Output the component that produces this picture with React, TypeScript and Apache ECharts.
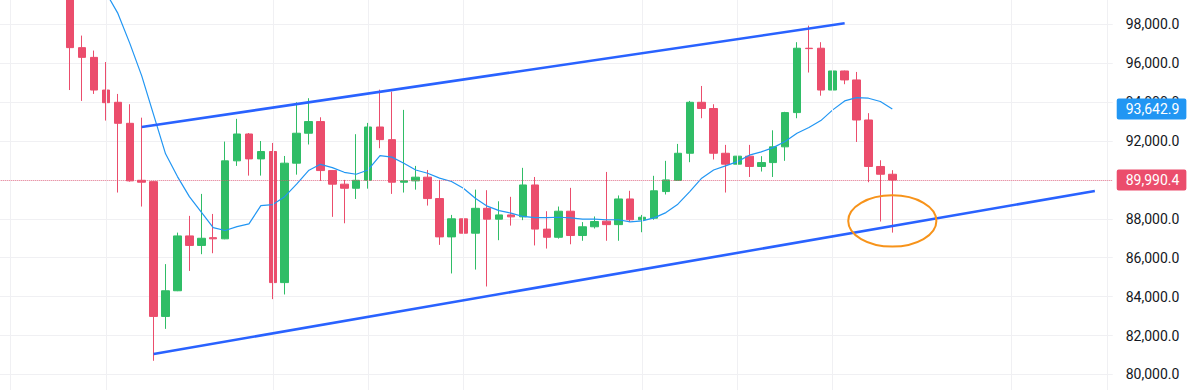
import { useEffect, useRef } from "react";
import * as echarts from "echarts";

// ---- slots / categories ----
const slotCount = 94;
const leadSlots = 6; // empty slots left of the first visible candle
const categories: string[] = Array.from({ length: slotCount }, (_, i) => `S${i}`);

// ---- candle data (70 candles) ----
const opens = [
  99900, 96800, 96300, 94620, 93990, 92910, 89980, 89910, 82980, 84300,
  87120, 86630, 87030, 86970, 90980, 92360, 91080, 91460, 84720, 90860,
  92400, 93000, 90480, 89780, 89570, 89980, 92720, 92070, 89880, 89950,
  90140, 89040, 87070, 88000, 87260, 88540, 87980, 88200, 88100, 89740,
  87470, 87050, 88390, 87140, 87590, 87880, 87700, 89020, 87950, 88030,
  89400, 89970, 91370, 93990, 93670, 91370, 90810, 91220, 90690, 90890,
  91700, 93460, 96770, 96770, 94620, 95600, 95140, 93080, 90690, 90290,
];
const closes = [
  96800, 96300, 94620, 93970, 92910, 89950, 89880, 82980, 84300, 87120,
  86630, 87000, 86970, 90980, 92360, 91080, 91460, 84720, 90860, 92400,
  93000, 90480, 89780, 89570, 89980, 92720, 92070, 89880, 89950, 90140,
  89040, 87070, 88000, 87260, 88540, 87980, 88200, 88100, 89740, 87470,
  87050, 88390, 87140, 87590, 87860, 87700, 89020, 87950, 88080, 89440,
  90000, 91370, 93990, 93670, 91370, 90810, 91220, 90690, 90890, 91700,
  93460, 96770, 96750, 94620, 95600, 95140, 93080, 90690, 90290, 89990.4,
];
const lows = [
  94620, 94060, 94420, 93050, 89350, 89910, 88630, 80700, 82340, 84280,
  85320, 86180, 86230, 86950, 90720, 90220, 90220, 83870, 84110, 90270,
  91820, 89950, 88100, 87770, 89020, 89550, 91630, 89280, 89350, 89500,
  88680, 86660, 85190, 86270, 85390, 84520, 86900, 87650, 87930, 86630,
  86470, 86980, 86690, 86870, 87500, 86870, 86870, 87830, 87310, 87950,
  89250, 89960, 90910, 93170, 91050, 89350, 89780, 90150, 90430, 90150,
  90980, 93170, 95520, 94330, 94590, 94920, 91950, 89880, 87860, 87290,
];
const highs = [
  100400, 97420, 96650, 96060, 94420, 93890, 93200, 89930, 85670, 87290,
  88150, 89280, 88250, 91970, 93140, 92410, 92000, 91900, 91230, 93990,
  94200, 93220, 90500, 90000, 92350, 92930, 94640, 94540, 93600, 90720,
  90510, 90000, 88200, 90410, 89500, 89470, 88900, 89130, 90620, 90150,
  88390, 88630, 89590, 87830, 88120, 90410, 89200, 89440, 88200, 90210,
  90980, 91850, 94060, 94830, 93890, 91800, 92040, 91800, 91220, 92550,
  93500, 97080, 97930, 97080, 95670, 95620, 95550, 93430, 91010, 90500,
];
// moving average (null = not drawn)
const maValues: (number | null)[] = [
  null, null, null, 99630, 98560, 97020, 95350, 93340, 91340, 90170,
  89140, 88340, 87550, 87400, 87600, 87740, 88680, 88730, 89140, 89780,
  90480, 90800, 90630, 90390, 90290, 90510, 91250, 91170, 90860, 90510,
  90340, 90090, 89920, 89570, 89060, 88650, 88420, 88290, 88120, 88060,
  88060, 88080, 88050, 87980, 87980, 87950, 87950, 87840, 87890, 88050,
  88320, 88750, 89400, 90090, 90510, 90720, 90940, 91270, 91440, 91660,
  91970, 92400, 92690, 93050, 93600, 94060, 94230, 94200, 94030, 93642.9,
];

const lastPrice = 89990.4;
const maLast = 93642.9;

// y axis ticks
const yMin = 78000;
const yMax = 100000;
const yStep = 2000;

// vertical grid lines (slot indices)
const verticalGridSlots = [1, 9, 23, 31, 39, 54, 62, 70, 85, 93];

// trend lines: [candleIndex, price]
const upperTrend: [number, number][] = [[6, 92720], [65, 98050]];
const lowerTrend: [number, number][] = [[7, 81050], [86, 89430]];

// highlight ellipse around candle 69
const ellipseCandle = 69;
const ellipseCenterPrice = 87890;
const ellipseHalfPrice = 1320;
const ellipseHalfSlots = 3.7;

const UP = "#2fbd66";
const DOWN = "#eb4d6c";
const FONT = "Roboto, 'Liberation Sans', sans-serif";

const fmt = (v: number) =>
  v.toLocaleString("en-US", { minimumFractionDigits: 1, maximumFractionDigits: 1 });

export default function App() {
  const ref = useRef<HTMLDivElement>(null);

  useEffect(() => {
    if (!ref.current) return;
    const chart = echarts.init(ref.current, null, { renderer: "svg" });

    const candleData = opens.map((o, i) => [leadSlots + i, o, closes[i], lows[i], highs[i]]);
    const maData = maValues
      .map((v, i) => (v == null ? null : [leadSlots + i, v]))
      .filter((d) => d !== null);

    const band = 11.914;
    const option: any = {
      animation: false,
      backgroundColor: "#ffffff",
      grid: {
        left: -7.2,
        top: -14.6,
        width: slotCount * band,
        height: 427.9,
        containLabel: false,
        outerBoundsMode: "none",
      },
      xAxis: {
        type: "category",
        data: categories,
        boundaryGap: true,
        axisLine: { show: false },
        axisTick: { show: false },
        axisLabel: { show: false },
        splitLine: { show: false },
      },
      yAxis: {
        type: "value",
        position: "right",
        min: yMin,
        max: yMax,
        interval: yStep,
        axisLine: { show: false },
        axisTick: { show: false },
        axisLabel: {
          margin: 13,
          color: "#131722",
          fontSize: 14,
          fontFamily: FONT,
          showMinLabel: false,
          showMaxLabel: false,
          formatter: (v: number) => fmt(v),
        },
        splitLine: { lineStyle: { color: "#f0f0f3", width: 1 } },
      },
      series: [
        {
          name: "grid",
          type: "line",
          data: [],
          z: 1,
          silent: true,
          markLine: {
            silent: true,
            symbol: ["none", "none"],
            label: { show: false },
            lineStyle: { color: "#f0f0f3", width: 1, type: "solid" },
            data: verticalGridSlots.map((s) => ({ xAxis: s })),
          },
        },
        {
          name: "candles",
          type: "candlestick",
          z: 2,
          barWidth: 8,
          encode: { x: 0, y: [1, 2, 3, 4] },
          data: candleData,
          itemStyle: {
            color: UP,
            color0: DOWN,
            borderColor: UP,
            borderColor0: DOWN,
            borderWidth: 1,
          },
          markLine: {
            silent: true,
            symbol: ["none", "none"],
            data: [
              {
                yAxis: lastPrice,
                lineStyle: { color: "rgba(235,77,108,0.7)", type: "dotted", width: 1 },
                label: {
                  show: true,
                  position: "end",
                  distance: 4,
                  formatter: () => fmt(lastPrice),
                  color: "#ffffff",
                  backgroundColor: DOWN,
                  padding: [3, 7, 3, 9],
                  borderRadius: 2,
                  fontSize: 14,
                  lineHeight: 15,
                  fontFamily: FONT,
                  opacity: 1,
                },
              },
            ],
          },
        },
        {
          name: "MA",
          type: "line",
          z: 3,
          data: maData,
          showSymbol: false,
          symbol: "none",
          lineStyle: { color: "#2196f3", width: 1.2 },
          markLine: {
            silent: true,
            symbol: ["none", "none"],
            data: [
              {
                yAxis: maLast,
                lineStyle: { color: "rgba(0,0,0,0)", width: 0 },
                label: {
                  show: true,
                  position: "end",
                  distance: 4,
                  formatter: () => fmt(maLast),
                  color: "#ffffff",
                  backgroundColor: "#2196f3",
                  padding: [3, 7, 3, 9],
                  borderRadius: 2,
                  fontSize: 14,
                  lineHeight: 15,
                  fontFamily: FONT,
                  opacity: 1,
                },
              },
            ],
          },
        },
        {
          name: "trend",
          type: "line",
          z: 4,
          data: [],
          silent: true,
          markLine: {
            silent: true,
            symbol: ["none", "none"],
            label: { show: false },
            lineStyle: { color: "#2962ff", width: 2.6, type: "solid" },
            data: [upperTrend, lowerTrend].map((t) => [
              { coord: [leadSlots + t[0][0], t[0][1]] },
              { coord: [leadSlots + t[1][0], t[1][1]] },
            ]),
          },
        },
      ],
    };

    chart.setOption(option);

    const finder = { xAxisIndex: 0, yAxisIndex: 0 };
    const c = chart.convertToPixel(finder, [leadSlots + ellipseCandle, ellipseCenterPrice]) as number[];
    const c2 = chart.convertToPixel(finder, [
      leadSlots + ellipseCandle + 1,
      ellipseCenterPrice - ellipseHalfPrice,
    ]) as number[];
    const slotPx = c2[0] - c[0];
    chart.setOption({
      graphic: [
        {
          type: "ellipse",
          z: 10,
          silent: true,
          shape: { cx: c[0], cy: c[1], rx: slotPx * ellipseHalfSlots, ry: c2[1] - c[1] },
          style: { fill: "none", stroke: "#f7931a", lineWidth: 2 },
        },
      ],
    });

    return () => chart.dispose();
  }, []);

  return (
    <div
      ref={ref}
      style={{ position: "fixed", left: 0, top: 0, width: 1200, height: 390, background: "#fff" }}
    />
  );
}
